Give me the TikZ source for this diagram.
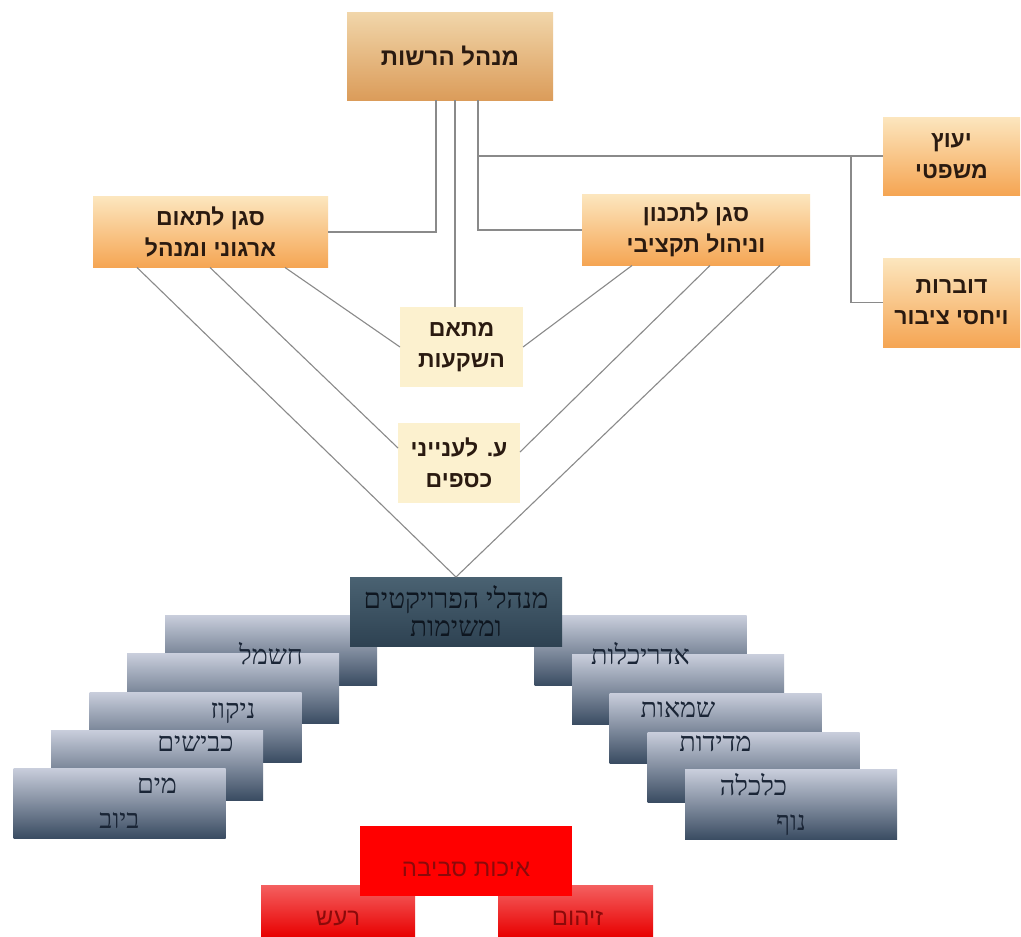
\documentclass[tikz,border=0pt]{standalone}
\usepackage{fontspec}
\TeXXeTstate=1
\newfontfamily\hbold[Script=Hebrew]{Liberation Sans}
\newfontfamily\hserif[Script=Hebrew]{Liberation Serif}
\newcommand\heb[1]{\beginR #1\endR}
\definecolor{ortop}{HTML}{FCE6BE}
\definecolor{orbot}{HTML}{F5A553}
\definecolor{tantop}{HTML}{F1D6AA}
\definecolor{tanbot}{HTML}{DB9C5A}
\definecolor{pale}{HTML}{FCF1CF}
\definecolor{btxt}{HTML}{2A1A10}
\definecolor{gtop}{HTML}{C9CEDC}
\definecolor{gmid}{HTML}{7286A0}
\definecolor{gbot}{HTML}{3A4C62}
\definecolor{gtxt}{HTML}{1A2536}
\definecolor{ctop}{HTML}{4A6272}
\definecolor{cbot}{HTML}{2E4252}
\definecolor{ctxt}{HTML}{0E1620}
\definecolor{rtop}{HTML}{F46060}
\definecolor{rbot}{HTML}{E80000}
\definecolor{rtxt}{HTML}{8B0A0A}
\definecolor{conn}{HTML}{8A8A8A}
\tikzset{
  anybox/.style={draw=none, inner sep=0pt, outer sep=0pt, align=center},
  obox/.style={anybox, shading=axis, top color=ortop, bottom color=orbot, text=btxt,
     font=\hbold\bfseries\fontsize{23}{31}\selectfont},
  tbox/.style={obox, top color=tantop, bottom color=tanbot, font=\hbold\bfseries\fontsize{24}{30}\selectfont},
  pbox/.style={anybox, fill=pale, text=btxt, font=\hbold\bfseries\fontsize{23}{31}\selectfont},
  gbox/.style={anybox, shading=axis, top color=gtop, middle color=gmid, bottom color=gbot,
     minimum width=212pt, minimum height=70pt},
  glab/.style={text=gtxt, font=\hserif\fontsize{27}{30}\selectfont},
  cbox/.style={anybox, shading=axis, top color=ctop, bottom color=cbot, text=ctxt,
     font=\hserif\fontsize{28}{28}\selectfont, minimum width=212pt, minimum height=69pt},
  rbox/.style={anybox, shading=axis, top color=rtop, bottom color=rbot},
  rlab/.style={text=rtxt, font=\hbold\fontsize{24}{28}\selectfont},
  conline/.style={draw=conn, line width=1.1pt},
}
\begin{document}
\begin{tikzpicture}[x=1pt,y=-1pt]
\useasboundingbox (0,0) rectangle (1021,937);
\fill[white] (0,0) rectangle (1021,937);
% top boxes
\node[tbox, minimum width=206pt, minimum height=88pt] (T) at (450,56) {\heb{מנהל הרשות}};
\node[obox, minimum width=235pt, minimum height=71pt] (L) at (210.5,232) {\heb{סגן לתאום}\\\heb{ארגוני ומנהל}};
\node[obox, minimum width=228pt, minimum height=71pt] (R) at (696,230) {\heb{סגן לתכנון}\\\heb{וניהול תקציבי}};
\node[obox, minimum width=137pt, minimum height=78pt] (J) at (951.5,156) {\heb{יעוץ}\\\heb{משפטי}};
\node[obox, minimum width=137pt, minimum height=89pt] (D) at (951.5,302.5) {\heb{דוברות}\\\heb{ויחסי ציבור}};
\node[pbox, minimum width=123pt, minimum height=80pt] (M) at (461.5,347) {\heb{מתאם}\\\heb{השקעות}};
\node[pbox, minimum width=122pt, minimum height=80pt] (K) at (459,463) {\heb{ע. לענייני}\\\heb{כספים}};
% connectors from top
\draw[conline] ([xshift=-14pt]T.south) |- (L.east);
\draw[conline] ([xshift=5pt]T.south) -- ([xshift=5pt]T.south |- M.north);
\draw[conline] ([xshift=28pt]T.south) |- (R.west);
\draw[conline] ([xshift=28pt]T.south |- J.west) -- (J.west);
\draw[conline] ([xshift=-32pt]J.west) |- (D.west);
% stairs boxes
\node[gbox] (s1) at (271,650) {};
\node[gbox] (s2) at (233,688.5) {};
\node[gbox] (s3) at (195.5,727) {};
\node[gbox] (s4) at (157,765) {};
\node[gbox] (s5) at (119.5,803) {};
\node[gbox] (e1) at (640.5,650.5) {};
\node[gbox] (e2) at (678,689.5) {};
\node[gbox] (e3) at (715.5,728) {};
\node[gbox] (e4) at (753.5,767) {};
\node[gbox] (e5) at (791,804.5) {};
% stairs labels
\node[glab] at ([yshift=-4pt]s1.center) {\heb{חשמל}};
\node[glab] at ([yshift=-25pt]s2.center) {\heb{ניקוז}};
\node[glab] at ([yshift=-17pt]s3.center) {\heb{כבישים}};
\node[glab] at ([yshift=-21pt]s4.center) {\heb{מים}};
\node[glab] at ([yshift=-18pt]s5.center) {\heb{ביוב}};
\node[glab] at ([yshift=-3pt]e1.center) {\heb{אדריכלות}};
\node[glab] at ([yshift=-20pt]e2.center) {\heb{שמאות}};
\node[glab] at ([yshift=-16pt]e3.center) {\heb{מדידות}};
\node[glab] at ([yshift=-18pt]e4.center) {\heb{כלכלה}};
\node[glab] at ([yshift=-21pt]e5.center) {\heb{נוף}};
\node[cbox] (G) at (456,611.5) {\heb{מנהלי הפרויקטים}\\\heb{ומשימות}};
% diagonals
\draw[conline] ([xshift=192pt]L.south west) -- (M.west);
\draw[conline] ([xshift=117pt]L.south west) -- ([yshift=15pt]K.west);
\draw[conline] ([xshift=44pt]L.south west) -- (G.north);
\draw[conline] ([xshift=50pt]R.south west) -- (M.east);
\draw[conline] ([xshift=128pt]R.south west) -- ([yshift=11pt]K.east);
\draw[conline] ([xshift=198pt]R.south west) -- (G.north);
% red
\node[rbox, minimum width=154pt, minimum height=52pt] (N) at (338,911) {};
\node[rlab] at ([yshift=-7pt]N.center) {\heb{רעש}};
\node[rbox, minimum width=155pt, minimum height=52pt] (P) at (575.5,911) {};
\node[rlab] at ([yshift=-7pt, xshift=2pt]P.center) {\heb{זיהום}};
\node[anybox, fill=red, minimum width=212pt, minimum height=70pt] (A) at (466,861) {};
\node[rlab] at ([yshift=-8pt]A.center) {\heb{איכות סביבה}};
\end{tikzpicture}
\end{document}
